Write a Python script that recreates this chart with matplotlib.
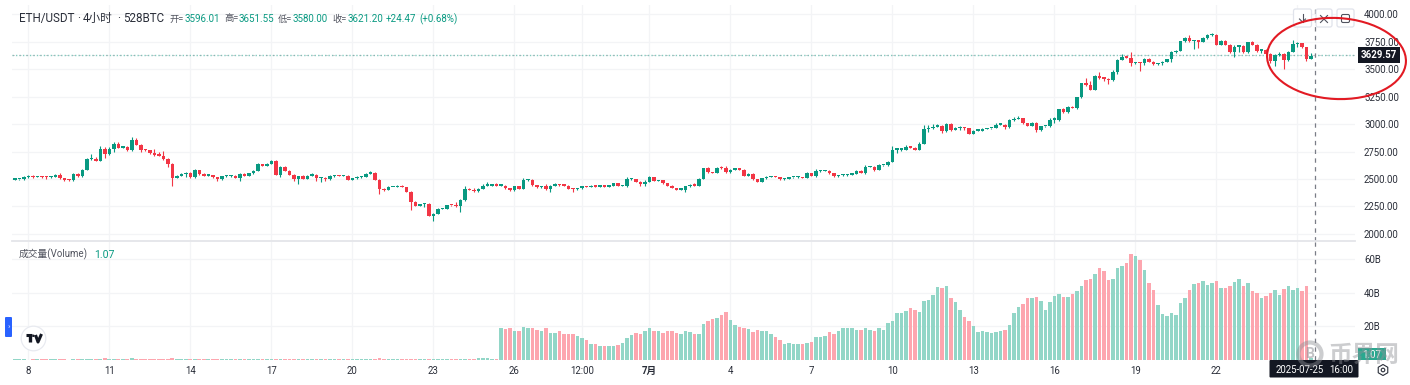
#!/usr/bin/env python
import matplotlib
matplotlib.use('Agg')
import matplotlib.pyplot as plt
import numpy as np
from matplotlib.patches import Circle, Ellipse, FancyBboxPatch, Rectangle, RegularPolygon

plt.rcParams['font.family'] = ['Roboto', 'Noto Sans CJK SC', 'DejaVu Sans']

first_open = 2492
closes = [
    2495, 2495, 2518, 2522, 2518, 2520, 2518, 2515, 2522, 2536,
    2508, 2490, 2486, 2542, 2525, 2580, 2680, 2685, 2668, 2773,
    2725, 2773, 2818, 2785, 2790, 2760, 2858, 2810, 2765, 2763,
    2735, 2715, 2712, 2680, 2640, 2510, 2530, 2545, 2550, 2515,
    2580, 2545, 2530, 2535, 2515, 2495, 2525, 2525, 2530, 2510,
    2545, 2530, 2550, 2575, 2635, 2620, 2640, 2665, 2535, 2610,
    2575, 2540, 2495, 2527, 2500, 2530, 2535, 2505, 2512, 2495,
    2525, 2530, 2527, 2527, 2490, 2505, 2518, 2520, 2548, 2555,
    2490, 2410, 2398, 2425, 2425, 2440, 2425, 2382, 2290, 2255,
    2270, 2275, 2165, 2185, 2225, 2230, 2260, 2258, 2250, 2305,
    2410, 2400, 2390, 2410, 2440, 2440, 2445, 2440, 2440, 2415,
    2397, 2433, 2412, 2488, 2492, 2442, 2422, 2435, 2406, 2440,
    2445, 2442, 2440, 2410, 2406, 2415, 2433, 2428, 2440, 2430,
    2436, 2430, 2440, 2460, 2436, 2440, 2497, 2497, 2473, 2450,
    2473, 2515, 2482, 2488, 2460, 2440, 2418, 2403, 2403, 2433,
    2445, 2440, 2500, 2597, 2560, 2555, 2600, 2597, 2560, 2585,
    2588, 2585, 2530, 2548, 2497, 2473, 2506, 2518, 2521, 2518,
    2500, 2503, 2515, 2515, 2518, 2509, 2552, 2530, 2570, 2573,
    2576, 2555, 2527, 2533, 2536, 2540, 2548, 2576, 2555, 2609,
    2612, 2582, 2624, 2624, 2657, 2767, 2767, 2767, 2794, 2785,
    2767, 2818, 2952, 2964, 2976, 2985, 2938, 3003, 2950, 2965,
    2968, 2965, 2912, 2940, 2940, 2955, 2960, 2963, 2994, 2994,
    2970, 3033, 3045, 3051, 3009, 2985, 3010, 2943, 2979, 2979,
    3039, 3039, 3133, 3106, 3160, 3145, 3245, 3373, 3358, 3309,
    3440, 3420, 3415, 3400, 3473, 3585, 3612, 3606, 3555, 3557,
    3555, 3595, 3570, 3545, 3552, 3570, 3590, 3655, 3670, 3755,
    3782, 3755, 3760, 3752, 3782, 3810, 3812, 3725, 3760, 3725,
    3657, 3705, 3712, 3655, 3745, 3724, 3670, 3673, 3640, 3579,
    3625, 3639, 3585, 3660, 3730, 3735, 3700, 3596.01, 3621.2,
]
wick_up = [
    5, 5, 5, 10, 10, 5, 5, 5, 5, 10,
    15, 3, 5, 8, 15, 8, 10, 40, 15, 25,
    15, 20, 15, 15, 8, 10, 20, 12, 8, 10,
    5, 40, 35, 40, 10, 5, 8, 5, 15, 10,
    10, 5, 5, 12, 5, 5, 5, 15, 5, 5,
    8, 10, 5, 8, 8, 5, 5, 10, 8, 5,
    5, 8, 8, 3, 10, 8, 15, 12, 5, 5,
    10, 10, 5, 5, 8, 8, 5, 5, 5, 15,
    5, 5, 5, 10, 5, 8, 5, 5, 5, 10,
    5, 10, 5, 5, 10, 5, 5, 5, 30, 15,
    30, 5, 15, 8, 15, 30, 5, 20, 8, 5,
    5, 5, 5, 25, 8, 5, 5, 5, 15, 5,
    15, 10, 15, 5, 3, 5, 5, 5, 5, 5,
    8, 5, 5, 5, 5, 3, 25, 15, 5, 5,
    15, 8, 5, 5, 5, 5, 5, 3, 5, 5,
    5, 20, 5, 5, 8, 5, 5, 20, 20, 5,
    10, 8, 3, 5, 3, 5, 5, 5, 5, 3,
    3, 5, 3, 5, 5, 3, 15, 5, 25, 10,
    8, 5, 3, 5, 5, 5, 5, 8, 5, 15,
    5, 10, 8, 5, 5, 30, 8, 15, 15, 5,
    3, 20, 40, 30, 25, 15, 8, 8, 8, 8,
    10, 3, 3, 5, 5, 5, 3, 3, 20, 8,
    10, 15, 15, 25, 8, 3, 8, 10, 3, 5,
    20, 25, 5, 10, 3, 3, 5, 3, 45, 30,
    5, 30, 5, 8, 20, 8, 30, 5, 50, 8,
    5, 5, 8, 5, 8, 5, 5, 10, 5, 5,
    8, 30, 5, 5, 8, 15, 20, 5, 5, 8,
    5, 15, 5, 5, 5, 12, 5, 3, 10, 5,
    12, 15, 5, 10, 40, 12, 5, 5, 30,
]
wick_dn = [
    3, 5, 3, 5, 5, 3, 5, 15, 5, 5,
    5, 8, 3, 3, 5, 5, 3, 3, 8, 5,
    35, 8, 30, 5, 3, 8, 3, 3, 20, 5,
    5, 5, 3, 5, 30, 70, 3, 3, 30, 8,
    3, 5, 5, 3, 10, 10, 3, 3, 3, 3,
    25, 3, 3, 3, 3, 3, 3, 3, 3, 15,
    3, 3, 15, 40, 5, 3, 3, 25, 30, 10,
    3, 3, 3, 3, 3, 3, 3, 5, 3, 3,
    3, 50, 5, 3, 3, 3, 3, 3, 75, 5,
    3, 30, 5, 50, 8, 3, 5, 3, 3, 50,
    3, 3, 8, 12, 3, 3, 3, 3, 3, 3,
    10, 3, 5, 3, 5, 8, 8, 3, 8, 25,
    3, 5, 3, 3, 25, 3, 3, 3, 3, 3,
    3, 3, 3, 3, 3, 3, 15, 3, 5, 15,
    15, 3, 3, 3, 3, 3, 3, 3, 3, 25,
    3, 3, 3, 3, 3, 3, 3, 8, 3, 3,
    3, 3, 3, 3, 3, 3, 3, 3, 3, 3,
    8, 8, 3, 3, 3, 3, 3, 5, 15, 3,
    3, 8, 8, 12, 5, 8, 3, 3, 3, 8,
    3, 8, 3, 5, 5, 3, 30, 10, 3, 3,
    3, 3, 3, 25, 10, 5, 15, 12, 15, 8,
    15, 15, 3, 3, 3, 3, 3, 3, 3, 3,
    15, 3, 3, 3, 5, 3, 3, 15, 3, 3,
    3, 25, 10, 8, 3, 3, 5, 3, 15, 3,
    3, 8, 25, 35, 5, 15, 3, 3, 25, 8,
    75, 20, 3, 8, 8, 15, 3, 25, 3, 3,
    3, 3, 75, 60, 3, 3, 8, 8, 3, 3,
    10, 45, 50, 5, 3, 5, 10, 25, 5, 25,
    50, 5, 85, 8, 5, 25, 5, 24, 5,
]
volumes = [
    0.3, 0.3, 0.3, 0.2, 0.3, 0.4, 0.3, 0.3, 0.3, 0.3,
    0.3, 0.3, 0.2, 0.6, 0.6, 0.6, 0.6, 0.6, 0.6, 0.6,
    1.0, 0.6, 0.6, 0.5, 0.3, 0.3, 1.0, 0.6, 0.6, 0.6,
    0.6, 0.6, 0.6, 0.6, 0.6, 1.4, 0.6, 0.6, 0.6, 0.6,
    0.3, 0.3, 0.3, 0.3, 0.3, 0.3, 0.3, 0.3, 0.3, 0.3,
    0.3, 0.3, 0.3, 0.6, 0.3, 0.3, 0.5, 0.3, 0.6, 0.6,
    0.3, 0.6, 0.6, 0.6, 0.3, 0.3, 0.3, 0.6, 0.6, 0.3,
    0.3, 0.3, 0.3, 0.3, 0.3, 0.3, 0.3, 0.6, 0.3, 0.3,
    0.8, 1.0, 0.4, 0.4, 0.4, 0.4, 0.6, 0.6, 0.4, 0.3,
    0.6, 0.6, 0.8, 0.4, 0.3, 0.4, 0.3, 0.6, 0.4, 0.5,
    0.3, 0.3, 0.3, 0.9, 0.9, 0.9, 0.5, 0.4,
    18.9, 18.5, 18.9, 17.3, 17.3, 19.7, 18.9, 18.9, 17.9, 17.3,
    18.9, 16.1, 16.1, 17.1, 15.5, 15.5, 15.5, 14.1, 12.9, 11.9,
    9.5, 9.5, 8.4, 8.4, 8.4, 8.4, 8.9, 9.9, 13.1, 14.7,
    15.9, 15.3, 17.1, 19.1, 17.5, 17.5, 16.1, 17.1, 17.1, 16.1,
    15.5, 17.1, 16.7, 15.3, 15.5, 21.5, 23.3, 24.3, 25.0, 26.8,
    28.6, 23.9, 20.9, 19.7, 19.1, 18.5, 16.7, 17.9, 17.5, 17.1,
    15.5, 13.7, 11.9, 9.5, 9.9, 9.5, 9.5, 9.5, 10.1, 10.7,
    13.7, 13.7, 14.3, 16.5, 15.5, 17.3, 18.9, 18.9, 19.1, 17.9,
    17.9, 18.9, 17.9, 17.5, 18.9, 17.9, 22.1, 23.3, 27.8, 28.2,
    29.4, 31.0, 30.0, 28.6, 35.0, 35.4, 38.8, 43.5, 42.9, 44.3,
    36.8, 34.6, 30.0, 25.4, 23.3, 20.3, 16.7, 17.1, 16.7, 16.1,
    16.7, 17.3, 17.9, 20.9, 27.8, 31.8, 33.4, 36.8, 36.8, 37.2,
    35.0, 30.0, 34.6, 38.2, 39.4, 37.6, 37.2, 39.4, 41.2, 44.3,
    47.7, 47.9, 51.3, 54.9, 53.1, 47.7, 48.1, 54.9, 56.1, 57.9,
    63.2, 62.0, 59.6, 53.7, 45.9, 41.7, 32.8, 27.4, 26.2, 28.0,
    26.8, 34.0, 37.0, 41.7, 45.3, 46.1, 47.1, 44.7, 46.1, 47.1,
    42.9, 42.9, 44.3, 46.5, 47.9, 43.9, 45.7, 40.8, 40.0, 37.0,
    38.2, 40.0, 41.7, 38.8, 42.1, 44.3, 41.7, 42.9, 40.8, 44.3,
    1.07,
]

price_ticks = [2000, 2250, 2500, 2750, 3000, 3250, 3500, 3750, 4000]
volume_ticks = [20, 40, 60]
volume_tick_labels = ['20B', '40B', '60B']
time_ticks = [3, 21, 39, 57, 75, 93, 111, 126, 141, 159, 177, 195, 213, 231, 249, 267, 285]
time_labels = ['8', '11', '14', '17', '20', '23', '26', '12:00', '7月', '4', '7', '10',
               '13', '16', '19', '22', '']
last_price = 3629.57
cursor_bar = 288.9

GREEN = '#089981'
RED = '#f23645'
GRID = '#f3f4f6'
TEXT = '#2a2e39'


def to_fig(x0, y0, x1, y1):
    return [x0 / 1410, 1 - y1 / 385, (x1 - x0) / 1410, (y1 - y0) / 385]


closes = np.array(closes, dtype=float)
opens = np.concatenate([[first_open], closes[:-1]])
highs = np.maximum(opens, closes) + np.array(wick_up)
lows = np.minimum(opens, closes) - np.array(wick_dn)
volumes = np.array(volumes)
bars = np.arange(len(closes))
up = closes >= opens
colors = [GREEN if u else RED for u in up]

fig = plt.figure(figsize=(14.1, 3.85), dpi=100)
ax = fig.add_axes(to_fig(12, 5, 1355, 240.5))
ax_vol = fig.add_axes(to_fig(12, 242, 1355, 360))

ax.vlines(bars, lows, highs, colors=colors, linewidth=0.8, zorder=3)
bottoms = np.minimum(opens, closes)
heights = np.maximum(np.abs(closes - opens), 12)
ax.bar(bars, heights, bottom=bottoms, width=0.8, color=colors, linewidth=0, zorder=4)
ax.axhline(last_price, color=GREEN, linewidth=1, linestyle=(0, (1, 1.5)), alpha=0.5, zorder=2)
ax.axhline(last_price, color='#9598a1', linewidth=0.6, linestyle=(0, (3, 5)), alpha=0.5, zorder=2)

vol_colors = ['#92d6c7' if u else '#fda6af' for u in up]
ax_vol.bar(bars, volumes, width=0.82, color=vol_colors, linewidth=0, zorder=3)

ax.set_xlim(-0.63, 297.8)
ax_vol.set_xlim(-0.63, 297.8)
ax.set_ylim(1939, 4085)
ax_vol.set_ylim(0, 70.2)

ax.set_yticks(price_ticks)
ax.set_yticklabels(['%.2f' % p for p in price_ticks])
ax_vol.set_yticks(volume_ticks)
ax_vol.set_yticklabels(volume_tick_labels)
ax.set_xticks(time_ticks)
ax.set_xticklabels([])
ax_vol.set_xticks(time_ticks)
ax_vol.set_xticklabels(time_labels)
for label in ax_vol.get_xticklabels():
    if label.get_text() == '7月':
        label.set_fontweight('bold')

for a in (ax, ax_vol):
    for spine in a.spines.values():
        spine.set_visible(False)
    a.yaxis.tick_right()
    a.tick_params(axis='y', length=0, pad=6.5, labelsize=6.9, labelcolor=TEXT)
    a.tick_params(axis='x', length=0, pad=4.5, labelsize=6.9, labelcolor=TEXT)
    a.grid(True, color=GRID, linewidth=0.9, zorder=0)
    a.set_axisbelow(True)
    a.axvline(cursor_bar, color='#7a7d87', linewidth=0.9, linestyle=(0, (3.5, 3.5)), zorder=5)

# overlay in pixel coordinates for the chart furniture
ov = fig.add_axes([0, 0, 1, 1], zorder=10)
ov.set_xlim(0, 1410)
ov.set_ylim(385, 0)
ov.axis('off')
ov.patch.set_alpha(0)

ov.plot([12, 1355], [241, 241], color='#e4e5e9', linewidth=1.3)

for x, s in [(19, 'ETH/USDT'), (77, '·'), (83, '4小时'), (117, '·'), (123, '528BTC')]:
    ov.text(x, 18.5, s, fontsize=8.4, color=TEXT, va='center')
for x, s in [(169, '开='), (224, '高='), (278, '低='), (332, '收=')]:
    ov.text(x, 19, s, fontsize=6.7, color='#50535e', va='center')
for x, s in [(184.5, '3596.01'), (239, '3651.55'), (293, '3580.00'), (347.5, '3621.20'),
             (386, '+24.47'), (419, '(+0.68%)')]:
    ov.text(x, 19, s, fontsize=7, color=GREEN, va='center')
ov.text(19, 254.5, '成交量(Volume)', fontsize=7, color='#50535e', va='center')
ov.text(94, 254.5, '1.07', fontsize=7.6, color=GREEN, va='center')

# buttons top right
for x0, x1 in [(1293.5, 1311.5), (1316, 1332), (1337, 1354)]:
    ov.add_patch(FancyBboxPatch((x0 + 2, 11), x1 - x0 - 4, 14, boxstyle='round,pad=2',
                                fc='white', ec='#e0e3eb', lw=0.9, zorder=6))
ov.plot([1302.5, 1302.5], [14, 22], color='#50535e', lw=0.8, zorder=7)
ov.plot([1299.5, 1302.5, 1305.5], [19, 22, 19], color='#50535e', lw=0.8, zorder=7)
ov.plot([1320.5, 1327.5], [15.5, 22.5], color='#50535e', lw=0.8, zorder=7)
ov.plot([1327.5, 1320.5], [15.5, 22.5], color='#50535e', lw=0.8, zorder=7)
ov.add_patch(FancyBboxPatch((1343, 16), 5, 5, boxstyle='round,pad=1.5', fc='none',
                            ec='#50535e', lw=0.8, zorder=7))

# price and time tags
ov.add_patch(Rectangle((1358, 47.3), 42, 15.4, fc='#131722', ec='none', zorder=6))
ov.text(1379, 55.2, '%.2f' % last_price, color='white', fontsize=7, fontweight='bold',
        ha='center', va='center', zorder=7)
ov.add_patch(Rectangle((1358, 348), 28, 12, fc='#2aa88f', ec='none', zorder=6))
ov.text(1372, 354.5, '1.07', color='white', fontsize=7, ha='center', va='center', zorder=7)
ov.add_patch(FancyBboxPatch((1270.5, 361), 87, 15.5, boxstyle='round,pad=1', fc='#131722',
                            ec='none', zorder=6))
ov.text(1276, 370, '2025-07-25', color='white', fontsize=6.9, va='center', zorder=7)
ov.text(1329, 370, '16:00', color='white', fontsize=6.9, va='center', zorder=7)

# settings icon
ov.add_patch(RegularPolygon((1383, 370), 6, radius=5.5, fc='none', ec=TEXT, lw=0.8, zorder=7))
ov.add_patch(Circle((1383, 370), 1.8, fc='none', ec=TEXT, lw=0.8, zorder=7))

# tab and logo bottom left
ov.add_patch(FancyBboxPatch((6, 318), 5, 18, boxstyle='round,pad=1', fc='#2962ff', ec='none', zorder=6))
ov.text(8.5, 327, '›', color='#dfe6ff', fontsize=6, ha='center', va='center', zorder=7)
ov.add_patch(Circle((33.5, 338.5), 12.3, fc='white', ec='#e8eaf0', lw=0.9, zorder=6))
ov.plot([26, 31.5], [335, 335], color='#131722', lw=2.2, solid_capstyle='butt', zorder=7)
ov.plot([29.5, 29.5], [335, 342], color='#131722', lw=2.4, solid_capstyle='butt', zorder=7)
ov.plot([35.5, 38, 41.5], [335, 342, 334], color='#131722', lw=2.2, solid_capstyle='butt', zorder=7)
ov.add_patch(Circle((33.5, 335.8), 1.2, fc='#131722', ec='none', zorder=7))

# hand-drawn circle
ov.add_patch(Ellipse((1336.5, 58.5), 139, 81, angle=3, fc='none', ec='#e21a23', lw=1.5, zorder=8))

# watermark
ov.add_patch(Circle((1310, 354), 11.5, fc='none', ec='#8f9096', lw=3, alpha=0.45, zorder=9))
ov.text(1310, 354.5, 'B', color='#8f9096', alpha=0.55, fontsize=10, fontweight='bold',
        ha='center', va='center', zorder=9)
ov.text(1328, 355, '币界网', color='#8f9096', alpha=0.45, fontsize=17, fontweight='bold',
        va='center', zorder=9)

fig.savefig('out.png', dpi=100)
